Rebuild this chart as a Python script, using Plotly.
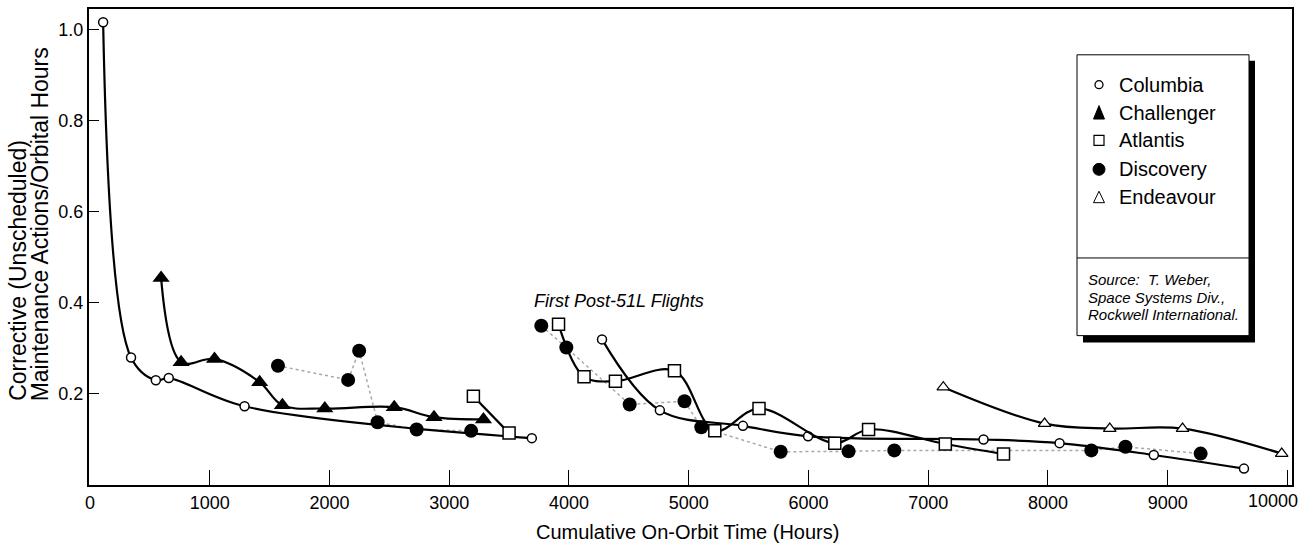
import plotly.graph_objects as go

# ---------------- data ----------------
columbia_x_pre = [110, 343, 550, 658, 1291, 3690]
columbia_y_pre = [1.017, 0.28, 0.23, 0.235, 0.173, 0.103]
columbia_x_post = [4276, 4759, 5453, 5997, 7462, 8097, 8884, 9637]
columbia_y_post = [0.32, 0.164, 0.13, 0.107, 0.10, 0.092, 0.066, 0.036]

challenger_x = [594, 761, 1040, 1417, 1607, 1961, 2541, 2873, 3286]
challenger_y = [0.455, 0.27, 0.277, 0.226, 0.175, 0.168, 0.171, 0.149, 0.144]

atlantis_x_pre = [3202, 3500]
atlantis_y_pre = [0.195, 0.114]
atlantis_x_post = [3913, 4126, 4388, 4881, 5218, 5587, 6220, 6502, 7143, 7629]
atlantis_y_post = [0.353, 0.238, 0.228, 0.251, 0.119, 0.168, 0.092, 0.122, 0.09, 0.068]

discovery_x_pre = [1570, 2156, 2248, 2402, 2728, 3183]
discovery_y_pre = [0.262, 0.231, 0.295, 0.138, 0.122, 0.119]
discovery_x_post = [3769, 3978, 4507, 4965, 5105, 5768, 6335, 6717, 8362, 8647, 9275]
discovery_y_post = [0.35, 0.302, 0.177, 0.184, 0.127, 0.073, 0.074, 0.076, 0.076, 0.084, 0.069]

endeavour_x = [7126, 7972, 8516, 9124, 9952]
endeavour_y = [0.215, 0.135, 0.124, 0.124, 0.069]

x_ticks = [0, 1000, 2000, 3000, 4000, 5000, 6000, 7000, 8000, 9000, 10000]
x_ticktext = ["0", "1000", "2000", "3000", "4000", "5000", "6000", "7000", "8000", "9000", ""]
last_x_label = "10000"
y_ticks = [0.2, 0.4, 0.6, 0.8, 1.0]
y_ticktext = ["0.2", "0.4", "0.6", "0.8", "1.0"]

legend_names = ["Columbia", "Challenger", "Atlantis", "Discovery", "Endeavour"]
source_lines = ["Source:  T. Weber,", "Space Systems Div.,", "Rockwell International."]
note_text = "First Post-51L Flights"
x_title = "Cumulative On-Orbit Time (Hours)"
y_title_lines = ["Corrective (Unscheduled)", "Maintenance Actions/Orbital Hours"]

FONT = "Liberation Sans, Arial, Helvetica, sans-serif"

# ---------------- geometry helpers (pixel -> paper) ----------------
W_PX, H_PX = 1307, 543
L, R, T, B = 89, 1292, 7, 485
PW, PH = R - L, B - T


def px(x):
    return (x - L) / PW


def py(y):
    return (B - y) / PH


def seg(*parts):
    out = []
    for i, p in enumerate(parts):
        if i:
            out.append(None)
        out.extend(p)
    return out


fig = go.Figure()

# Discovery: dotted grey connecting line with filled circles
fig.add_trace(go.Scatter(
    x=seg(discovery_x_pre, discovery_x_post),
    y=seg(discovery_y_pre, discovery_y_post),
    mode="lines+markers",
    line=dict(color="#a8a8a8", width=1.5, dash="dot"),
    marker=dict(symbol="circle", size=14, color="black"),
    connectgaps=False, name="Discovery"))

# Columbia
fig.add_trace(go.Scatter(
    x=seg(columbia_x_pre, columbia_x_post),
    y=seg(columbia_y_pre, columbia_y_post),
    mode="lines+markers",
    line=dict(color="black", width=2.2, shape="spline", smoothing=1.0),
    marker=dict(symbol="circle", size=9, color="white", line=dict(color="black", width=1.5)),
    connectgaps=False, name="Columbia"))

# Challenger
fig.add_trace(go.Scatter(
    x=challenger_x, y=challenger_y,
    mode="lines+markers",
    line=dict(color="black", width=2.2, shape="spline", smoothing=1.0),
    marker=dict(symbol="triangle-up", size=15, color="black"),
    name="Challenger"))

# Atlantis
fig.add_trace(go.Scatter(
    x=seg(atlantis_x_pre, atlantis_x_post),
    y=seg(atlantis_y_pre, atlantis_y_post),
    mode="lines+markers",
    line=dict(color="black", width=2.2, shape="spline", smoothing=1.0),
    marker=dict(symbol="square", size=12, color="white", line=dict(color="black", width=1.5)),
    connectgaps=False, name="Atlantis"))

# Endeavour
fig.add_trace(go.Scatter(
    x=endeavour_x, y=endeavour_y,
    mode="lines+markers",
    line=dict(color="black", width=2.2, shape="spline", smoothing=1.0),
    marker=dict(symbol="triangle-up", size=11, color="white", line=dict(color="black", width=1.2)),
    name="Endeavour"))

shapes = []
annotations = []

# legend box with drop shadow
shapes.append(dict(type="rect", xref="paper", yref="paper",
                   x0=px(1083), x1=px(1255), y0=py(342), y1=py(59),
                   fillcolor="black", line=dict(width=0), layer="above"))
shapes.append(dict(type="rect", xref="paper", yref="paper",
                   x0=px(1077), x1=px(1249), y0=py(335), y1=py(53),
                   fillcolor="white", line=dict(color="black", width=1), layer="above"))
shapes.append(dict(type="line", xref="paper", yref="paper",
                   x0=px(1077), x1=px(1249), y0=py(257), y1=py(257),
                   line=dict(color="black", width=1), layer="above"))

rows = [83, 111, 139, 168, 196]
sx = 1099
# Columbia symbol: small open circle
shapes.append(dict(type="circle", xref="paper", yref="paper",
                   x0=px(sx - 4), x1=px(sx + 4), y0=py(rows[0] + 4), y1=py(rows[0] - 4),
                   fillcolor="white", line=dict(color="black", width=1.3), layer="above"))
# Challenger symbol: filled triangle
r = rows[1]
shapes.append(dict(type="path", xref="paper", yref="paper",
                   path=f"M {px(sx-5.5)},{py(r+6.5)} L {px(sx+5.5)},{py(r+6.5)} L {px(sx)},{py(r-7)} Z",
                   fillcolor="black", line=dict(color="black", width=1), layer="above"))
# Atlantis symbol: open square
r = rows[2]
shapes.append(dict(type="rect", xref="paper", yref="paper",
                   x0=px(sx - 5), x1=px(sx + 5), y0=py(r + 5), y1=py(r - 5),
                   fillcolor="white", line=dict(color="black", width=1.2), layer="above"))
# Discovery symbol: filled circle
r = rows[3]
shapes.append(dict(type="circle", xref="paper", yref="paper",
                   x0=px(sx - 6), x1=px(sx + 6), y0=py(r + 6), y1=py(r - 6),
                   fillcolor="black", line=dict(color="black", width=1), layer="above"))
# Endeavour symbol: open triangle
r = rows[4]
shapes.append(dict(type="path", xref="paper", yref="paper",
                   path=f"M {px(sx-5.5)},{py(r+5.5)} L {px(sx+5.5)},{py(r+5.5)} L {px(sx)},{py(r-6)} Z",
                   fillcolor="white", line=dict(color="black", width=1), layer="above"))

for name, r in zip(legend_names, rows):
    annotations.append(dict(xref="paper", yref="paper", x=px(1117), y=py(r),
                            xanchor="left", yanchor="middle", showarrow=False,
                            text=name, font=dict(family=FONT, size=20, color="black")))

for line, r in zip(source_lines, [279, 297, 314]):
    annotations.append(dict(xref="paper", yref="paper", x=px(1086), y=py(r),
                            xanchor="left", yanchor="middle", showarrow=False,
                            text=f"<i>{line}</i>", font=dict(family=FONT, size=15, color="black")))

# "First Post-51L Flights"
annotations.append(dict(xref="paper", yref="paper", x=px(532), y=py(300),
                        xanchor="left", yanchor="middle", showarrow=False,
                        text=f"<i>{note_text}</i>", font=dict(family=FONT, size=18, color="black")))

# last x tick label (kept inside the page, as in the reference)
annotations.append(dict(xref="paper", yref="paper", x=px(1273), y=py(501),
                        xanchor="center", yanchor="middle", showarrow=False,
                        text=last_x_label, font=dict(family=FONT, size=18, color="black")))

# axis titles
annotations.append(dict(xref="paper", yref="paper", x=px(687), y=py(532),
                        xanchor="center", yanchor="middle", showarrow=False,
                        text=x_title, font=dict(family=FONT, size=20, color="black")))
for line, xc in zip(y_title_lines, [18, 40]):
    annotations.append(dict(xref="paper", yref="paper", x=px(xc), y=py(403),
                            xanchor="center", yanchor="bottom", showarrow=False, textangle=-90,
                            text=line, font=dict(family=FONT, size=23, color="black")))

fig.update_layout(
    width=W_PX, height=H_PX,
    margin=dict(l=L, r=W_PX - R, t=T, b=H_PX - B, pad=0),
    paper_bgcolor="white", plot_bgcolor="white",
    showlegend=False,
    shapes=shapes, annotations=annotations,
    xaxis=dict(range=[-8, 10038], tickvals=x_ticks, ticktext=x_ticktext, ticks="inside", ticklen=15,
               tickwidth=1, tickcolor="black", showline=True, linecolor="black", linewidth=2,
               mirror=True, showgrid=False, zeroline=False,
               tickfont=dict(family=FONT, size=18, color="black")),
    yaxis=dict(range=[0, 1.046], tickvals=y_ticks, ticktext=y_ticktext, ticks="inside", ticklen=10,
               tickwidth=1, tickcolor="black", showline=True, linecolor="black", linewidth=2,
               mirror=True, showgrid=False, zeroline=False,
               tickfont=dict(family=FONT, size=18, color="black")),
)

fig.write_html(
    "out.html",
    config={"displayModeBar": False},
    post_script="document.body.style.margin='0';document.body.style.overflow='hidden';",
)
